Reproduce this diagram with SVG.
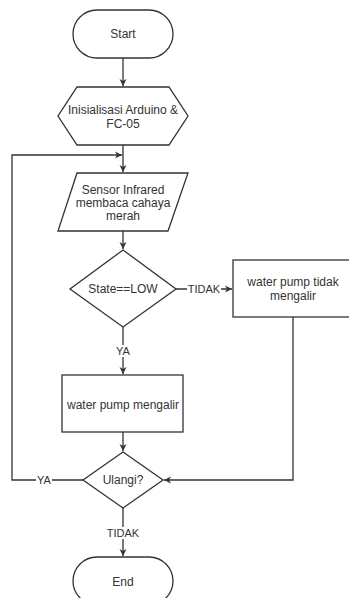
<svg xmlns="http://www.w3.org/2000/svg" width="349" height="598" viewBox="0 0 349 598">
<style>
.s{fill:#fff;stroke:#333;stroke-width:1.3}
.t{font-family:"Liberation Sans",Arial,sans-serif;font-size:12px;fill:#333;text-anchor:middle}
.l{font-family:"Liberation Sans",Arial,sans-serif;font-size:11px;fill:#333;text-anchor:middle}
.c{fill:none;stroke:#333;stroke-width:1.3}
</style>
<defs>
<marker id="a" markerWidth="8" markerHeight="8" refX="7" refY="4" orient="auto" markerUnits="userSpaceOnUse">
<path d="M0,0.5 L7,4 L0,7.5 L2,4 Z" fill="#333"/>
</marker>
</defs>
<rect width="349" height="598" fill="#fff"/>
<g id="connectors">
<line class="c" x1="123" y1="58" x2="123" y2="86" marker-end="url(#a)"/>
<line class="c" x1="123" y1="145" x2="123" y2="172" marker-end="url(#a)"/>
<line class="c" x1="123" y1="231" x2="123" y2="249" marker-end="url(#a)"/>
<line class="c" x1="176" y1="289" x2="232" y2="289" marker-end="url(#a)"/>
<line class="c" x1="123" y1="327" x2="123" y2="374" marker-end="url(#a)"/>
<line class="c" x1="123" y1="432" x2="123" y2="451" marker-end="url(#a)"/>
<polyline class="c" points="293,317 293,480 164,480" marker-end="url(#a)"/>
<polyline class="c" points="83,480 12,480 12,155 122,155" marker-end="url(#a)"/>
<line class="c" x1="123" y1="508" x2="123" y2="556" marker-end="url(#a)"/>
<rect x="187" y="283" width="34" height="12" fill="#fff"/>
<text class="l" x="204" y="293">TIDAK</text>
<rect x="115" y="345" width="16" height="12" fill="#fff"/>
<text class="l" x="123" y="355">YA</text>
<rect x="36" y="474" width="16" height="12" fill="#fff"/>
<text class="l" x="44" y="484">YA</text>
<rect x="106" y="527" width="34" height="12" fill="#fff"/>
<text class="l" x="123" y="537">TIDAK</text>
</g>
<g id="start">
<rect class="s" x="73" y="10" width="100" height="48" rx="24" ry="24"/>
<text class="t" x="123" y="38">Start</text>
</g>
<g id="init">
<polygon class="s" points="77,87 169,87 188,116 169,145 77,145 58,116"/>
<text class="t" x="123" y="114">Inisialisasi Arduino &amp;</text>
<text class="t" x="123" y="128">FC-05</text>
</g>
<g id="sensor">
<polygon class="s" points="77,173 188,173 168,231 58,231"/>
<text class="t" x="123" y="194">Sensor Infrared</text>
<text class="t" x="123" y="207">membaca cahaya</text>
<text class="t" x="123" y="220">merah</text>
</g>
<g id="state">
<polygon class="s" points="123,250 176,289 123,327 70,289"/>
<text class="t" x="123" y="293">State==LOW</text>
</g>
<g id="tidak-mengalir">
<rect class="s" x="233" y="260" width="120" height="57"/>
<text class="t" x="293" y="286">water pump tidak</text>
<text class="t" x="293" y="300">mengalir</text>
</g>
<g id="mengalir">
<rect class="s" x="62" y="375" width="121" height="57"/>
<text class="t" x="123" y="409">water pump mengalir</text>
</g>
<g id="ulangi">
<polygon class="s" points="123,452 163,480 123,508 83,480"/>
<text class="t" x="123" y="484">Ulangi?</text>
</g>
<g id="end">
<rect class="s" x="73" y="557" width="100" height="48" rx="24" ry="24"/>
<text class="t" x="123" y="586">End</text>
</g>
</svg>
